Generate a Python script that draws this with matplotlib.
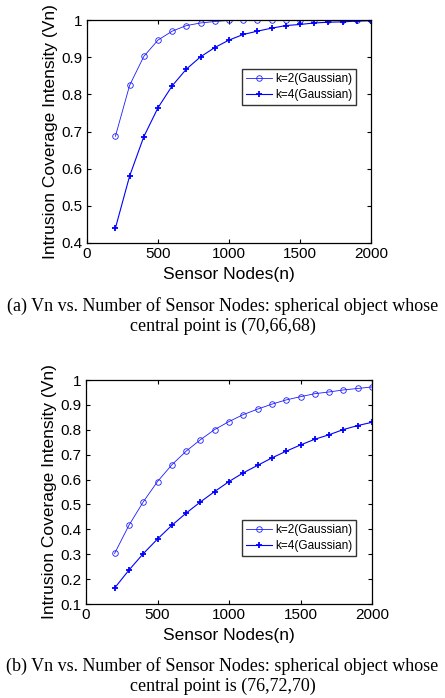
import matplotlib
matplotlib.use('Agg')
import matplotlib.pyplot as plt
from matplotlib.ticker import FormatStrFormatter

# sensor node counts (shared x)
nodes = [200, 300, 400, 500, 600, 700, 800, 900, 1000, 1100,
         1200, 1300, 1400, 1500, 1600, 1700, 1800, 1900, 2000]

# (a) object centre (70,66,68)
a_k2 = [0.687, 0.824, 0.902, 0.946, 0.970, 0.985, 0.992, 0.996, 0.999, 0.9995,
        1.0, 1.0, 1.0, 1.0, 1.0, 1.0, 1.0, 1.0, 1.0]
a_k4 = [0.440, 0.580, 0.686, 0.764, 0.823, 0.868, 0.901, 0.926, 0.946, 0.961,
        0.970, 0.978, 0.985, 0.988, 0.992, 0.994, 0.995, 0.997, 0.998]

# (b) object centre (76,72,70)
b_k2 = [0.303, 0.416, 0.510, 0.592, 0.659, 0.714, 0.760, 0.801, 0.833, 0.861,
        0.883, 0.903, 0.920, 0.933, 0.945, 0.952, 0.960, 0.966, 0.972]
b_k4 = [0.164, 0.236, 0.302, 0.361, 0.416, 0.465, 0.510, 0.552, 0.592, 0.627,
        0.657, 0.687, 0.714, 0.739, 0.762, 0.780, 0.801, 0.817, 0.830]

labels = ['k=2(Gaussian)', 'k=4(Gaussian)']
xticks = [0, 500, 1000, 1500, 2000]
captions = ['(a) Vn vs. Number of Sensor Nodes: spherical object whose\ncentral point is (70,66,68)',
            '(b) Vn vs. Number of Sensor Nodes: spherical object whose\ncentral point is (76,72,70)']

plt.rcParams['font.family'] = ['Liberation Sans', 'DejaVu Sans']

W, H = 445, 698
fig = plt.figure(figsize=(W / 100, H / 100), dpi=100)


def make_axes(left, top, right, bottom):
    return fig.add_axes([left / W, 1 - bottom / H, (right - left) / W, (bottom - top) / H])


def draw_panel(ax, y2, y4, ylo, yticks, legend_box):
    ax.plot(nodes, y2, color='#1a1aff', lw=0.6, marker='o', ms=4,
            mfc='none', mew=0.6, label=labels[0])
    ax.plot(nodes, y4, color='#0000ff', lw=0.8, marker='+', ms=5,
            mew=1.3, label=labels[1])
    ax.set_xlim(0, 2000)
    ax.set_ylim(ylo, 1)
    ax.set_xticks(xticks)
    ax.set_yticks(yticks)
    ax.yaxis.set_major_formatter(FormatStrFormatter('%g'))
    ax.tick_params(direction='in', top=True, right=True, labelsize=11,
                   length=3, width=0.8, pad=3)
    for s in ax.spines.values():
        s.set_linewidth(0.9)
    ax.set_xlabel('Sensor Nodes(n)', fontsize=12.5, labelpad=4)
    ax.set_ylabel('Intrusion Coverage Intensity (Vn)', fontsize=12.5, labelpad=3)
    leg = ax.legend(loc='upper left', bbox_to_anchor=legend_box, fontsize=8.5,
                    frameon=True, fancybox=False, handlelength=2.2,
                    handletextpad=0.25, borderpad=0.35, labelspacing=0.35,
                    borderaxespad=0)
    leg.get_frame().set_edgecolor('black')
    leg.get_frame().set_linewidth(1.0)


ax1 = make_axes(87, 20, 371, 243)
draw_panel(ax1, a_k2, a_k4, 0.4, [0.4, 0.5, 0.6, 0.7, 0.8, 0.9, 1.0],
           ((242 - 87) / 284, 1 - (69 - 20) / 223))

ax2 = make_axes(86, 380, 372, 604)
draw_panel(ax2, b_k2, b_k4, 0.1, [0.1, 0.2, 0.3, 0.4, 0.5, 0.6, 0.7, 0.8, 0.9, 1.0],
           ((242 - 86) / 286, 1 - (520 - 380) / 224))

for cap, yc in zip(captions, [316, 676]):
    fig.text(0.5, 1 - yc / H, cap, ha='center', va='center', fontsize=13,
             family='Liberation Serif', linespacing=1.2)

fig.savefig('out.png', dpi=100)
